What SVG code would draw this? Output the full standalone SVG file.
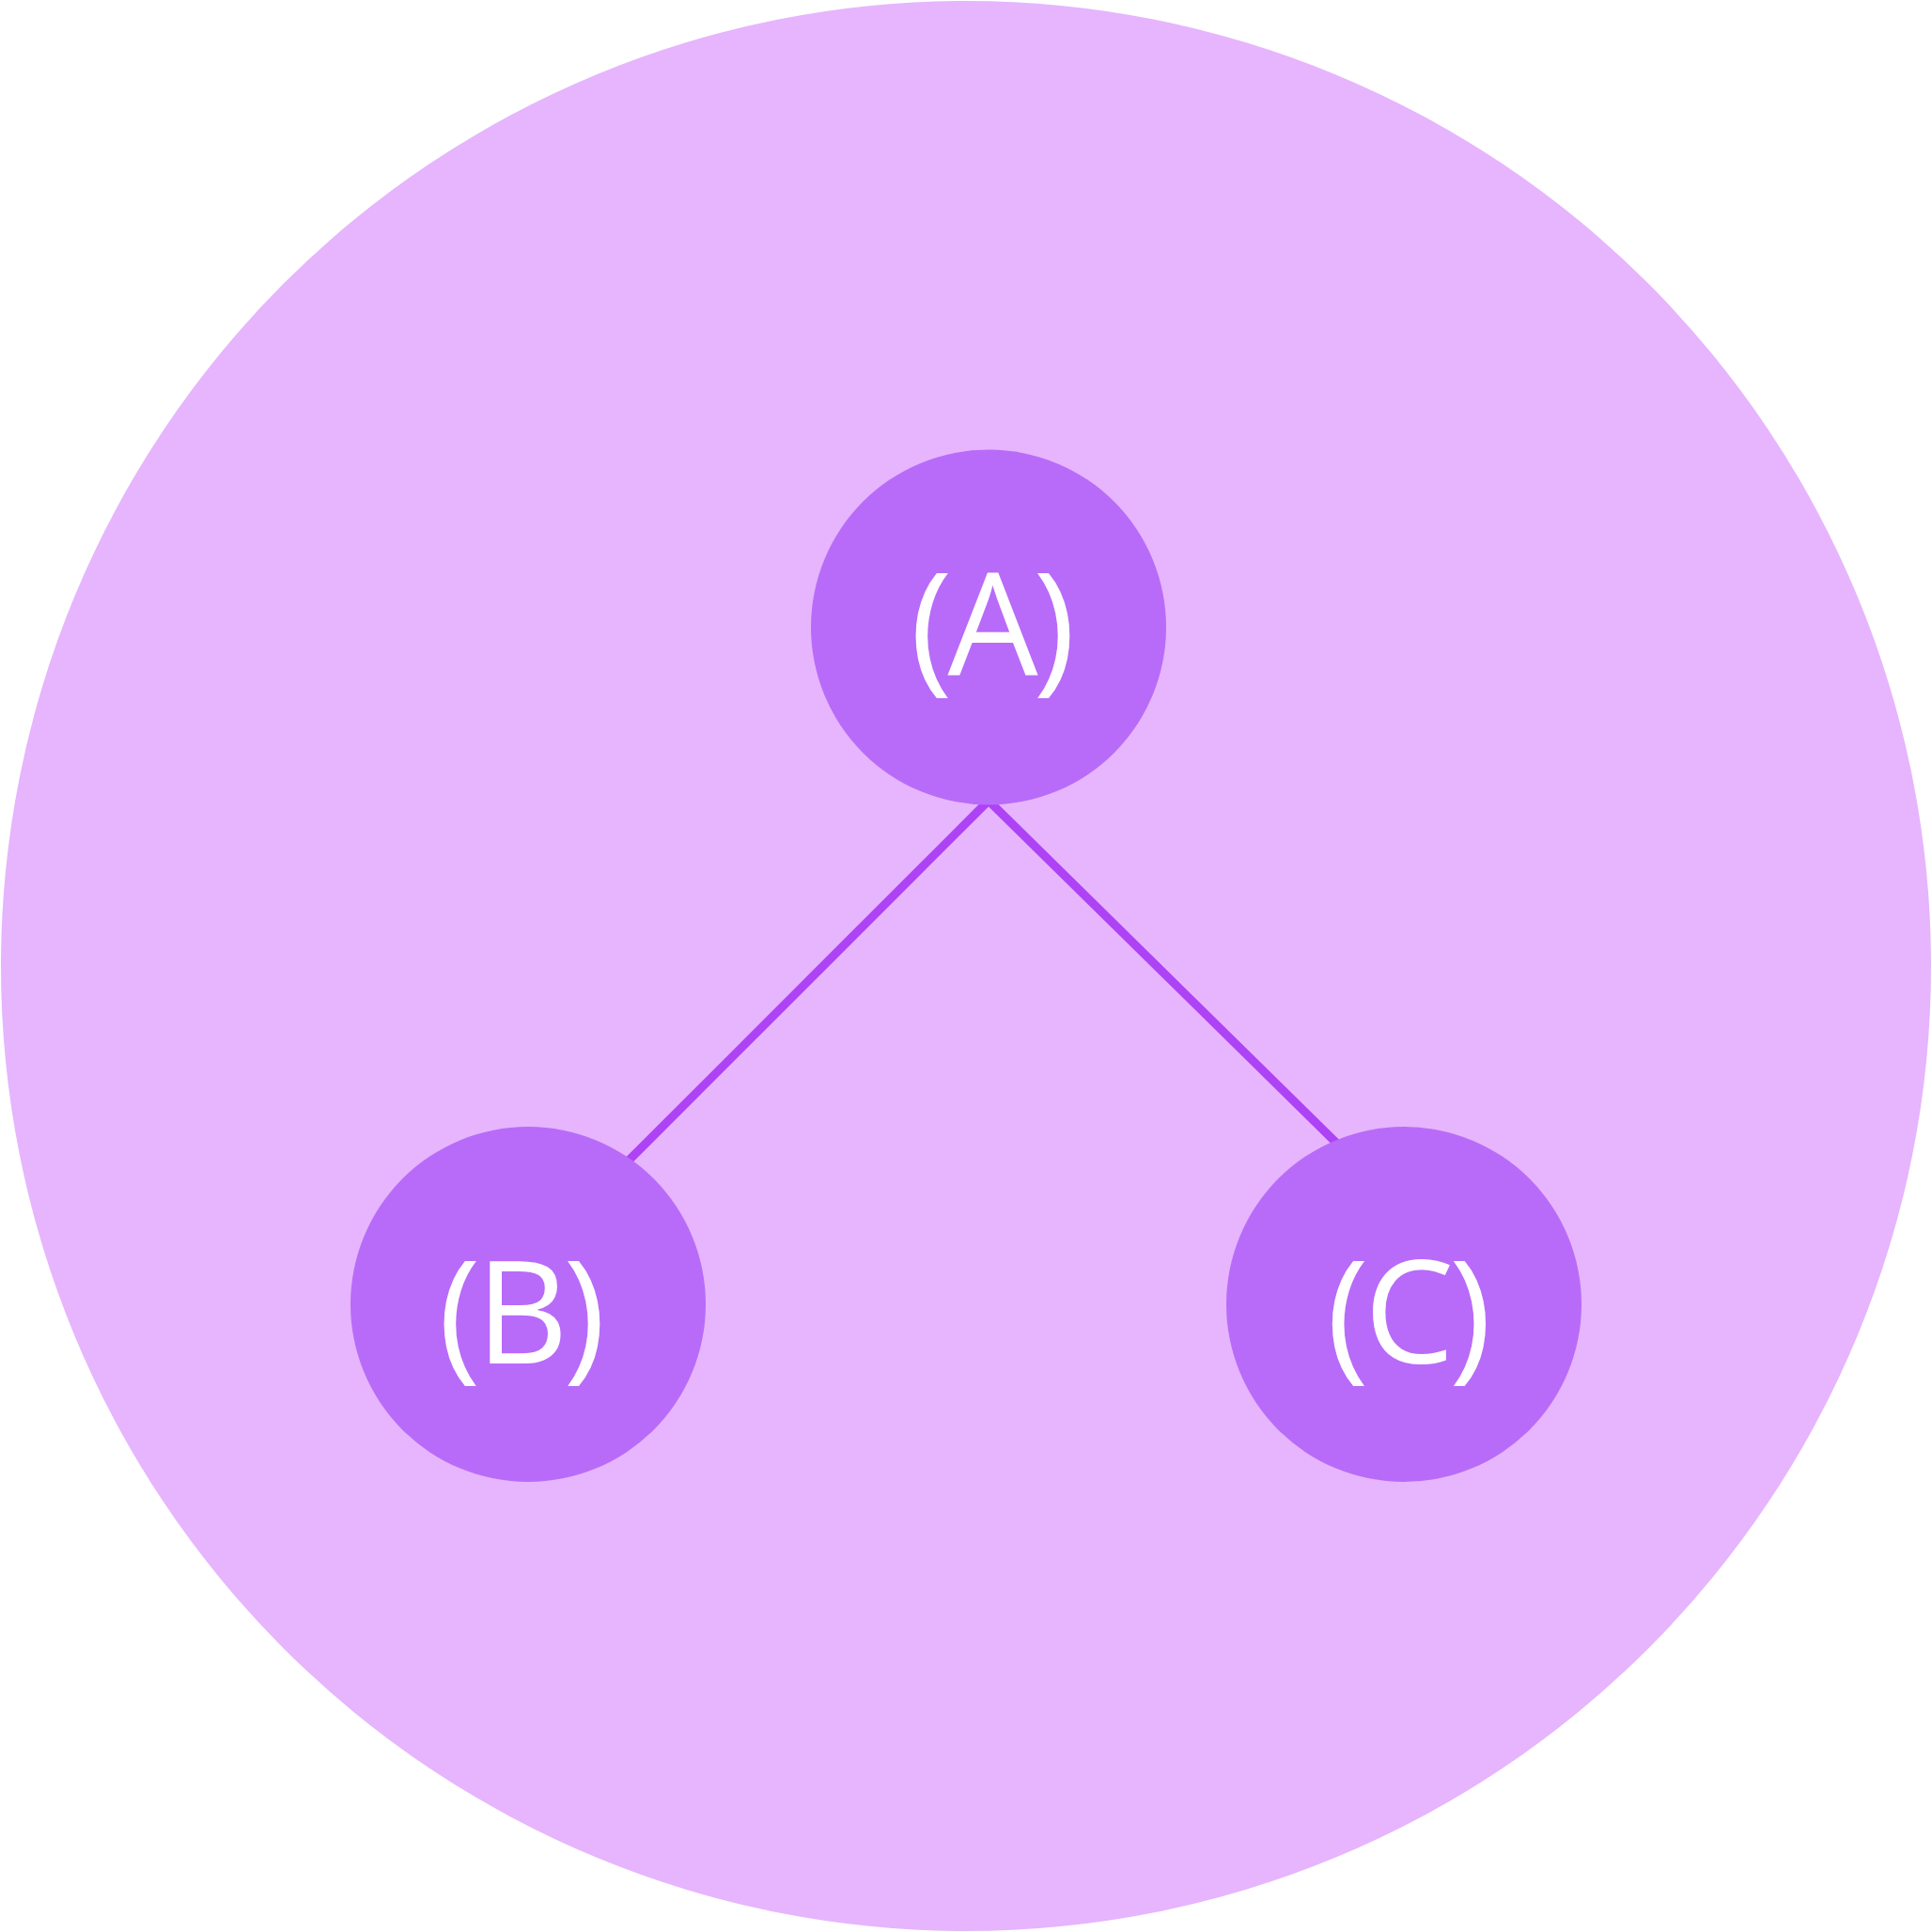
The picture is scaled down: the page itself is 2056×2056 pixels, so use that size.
<svg xmlns="http://www.w3.org/2000/svg" width="2056" height="2056" viewBox="0 0 2056 2056">
  <style>
    .bg { fill: #e6b5fd; }
    .node { fill: #b86bf8; }
    .edge { stroke: #ae42f5; stroke-width: 9; fill: none; }
    .label { fill: #ffffff; font-family: "Open Sans", "Liberation Sans", sans-serif; font-size: 152px; text-anchor: middle; letter-spacing: -5px; }
  </style>
  <circle class="bg" cx="1028" cy="1028" r="1027"/>
  <g id="connectors">
    <line class="edge" x1="1052" y1="852" x2="660" y2="1244"/>
    <line class="edge" x1="1052" y1="852" x2="1430" y2="1224"/>
  </g>
  <g id="node-A">
    <circle class="node" cx="1052" cy="667.5" r="189"/>
    <text class="label" x="1054" y="719">(A)</text>
  </g>
  <g id="node-B">
    <circle class="node" cx="562" cy="1388" r="189"/>
    <text class="label" x="553" y="1451">(B)</text>
  </g>
  <g id="node-C">
    <circle class="node" cx="1494" cy="1388" r="189"/>
    <text class="label" x="1497" y="1451">(C)</text>
  </g>
</svg>
